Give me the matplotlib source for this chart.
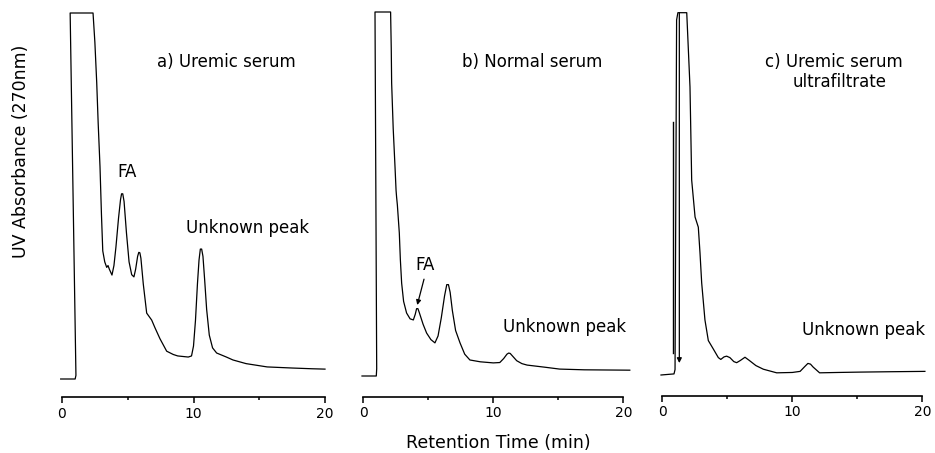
import matplotlib
matplotlib.use("Agg")
import matplotlib.pyplot as plt

plt.rcParams['font.family'] = ['DejaVu Sans']

# ---------------- data (retention time in min, UV absorbance in % of full scale) ----------------
a_time = [-0.1, 1.0, 1.06, 0.62, 2.36, 2.5, 2.64, 2.75, 2.89, 3.0, 3.1, 3.25, 3.4, 3.5, 3.6, 3.8,
          3.95, 4.1, 4.3, 4.45, 4.53, 4.62, 4.72, 4.9, 5.1, 5.3, 5.47, 5.6, 5.75, 5.84, 5.92, 6.0,
          6.18, 6.44, 6.82, 7.07, 7.45, 7.96, 8.46, 8.8, 9.6, 9.85, 10.0, 10.15, 10.3, 10.42,
          10.52, 10.62, 10.72, 10.85, 11.0, 11.2, 11.45, 11.76, 12.5, 13.0, 14.0, 15.6, 17.5,
          19.0, 20.0]
a_abs = [0, 0, 1, 100, 100, 92, 81, 70, 58, 45, 35, 32, 30.5, 31, 30, 28.4,
         31, 36, 44, 49, 50.6, 50.6, 48.5, 40, 32, 28.5, 27.9, 30, 33.5, 34.6, 34.5, 33,
         26, 18, 16.1, 14, 11, 7.6, 6.7, 6.3, 6.0, 6.3, 9, 16, 26, 32.5,
         35.5, 35.5, 33.5, 27, 19, 12, 8.5, 7.1, 6.0, 5.2, 4.2, 3.3, 3.0,
         2.8, 2.7]

b_time = [-0.1, 1.0, 1.03, 0.9, 2.1, 2.15, 2.18, 2.3, 2.44, 2.52, 2.56, 2.62, 2.77, 2.85, 2.95,
          3.1, 3.33, 3.6, 3.85, 4.0, 4.1, 4.2, 4.3, 4.6, 4.87, 5.2, 5.51, 5.75, 6.0, 6.25, 6.42,
          6.55, 6.68, 6.85, 7.1, 7.44, 7.8, 8.2, 9.0, 10.0, 10.5, 10.8, 11.05, 11.18, 11.3, 11.45,
          11.8, 12.2, 12.6, 14.0, 15.1, 17.0, 20.5]
b_abs = [0, 0, 2, 100, 100, 90, 80.5, 68, 57.4, 51, 49.2, 47, 39.3, 32, 25.5,
         20.5, 17.3, 15.7, 15.4, 17, 18.5, 18.5, 17.5, 14.2, 11.8, 10, 9.1, 11, 16, 22, 25.1,
         25.1, 23, 18, 12.5, 9.1, 6, 4.4, 3.9, 3.6, 3.7, 4.8, 6.0, 6.3, 6.2, 5.6,
         4.2, 3.4, 3.0, 2.4, 1.9, 1.7, 1.6]

c_time = [-0.1, 0.9, 0.98, 1.1, 1.2, 1.88, 2.13, 2.26, 2.52, 2.77, 2.9, 3.03, 3.28, 3.54, 3.92,
          4.31, 4.5, 4.75, 4.95, 5.2, 5.5, 5.72, 6.0, 6.36, 6.7, 7.2, 7.77, 8.8, 10.0, 10.6,
          10.95, 11.2, 11.4, 11.6, 12.1, 13.5, 15.2, 17.5, 20.2]
c_abs = [0, 0.3, 1.5, 98, 100, 100, 79.5, 53.8, 43.6, 40.8, 33.7, 25.4, 15.2, 9.5, 7.2,
         4.8, 4.3, 5.0, 5.2, 4.8, 3.7, 3.4, 4.0, 4.9, 4.0, 2.6, 1.6, 0.6, 0.7, 1.0,
         2.3, 3.2, 3.0, 2.2, 0.6, 0.7, 0.8, 0.9, 1.0]
# recorder pen marks in panel c
c_mark_time = [0.85, 0.85]
c_mark_abs = [69.9, 6.1]
c_arrow_time = 1.31
c_arrow_from, c_arrow_to = 100, 3.3

x_ticks = [0, 10, 20]
x_minor = [5, 15]

W, H = 935, 453
fig = plt.figure(figsize=(W / 100, H / 100), dpi=100)


def make_ax(zero_px, ppm, spine_px, base_px, top_px):
    ppu = (base_px - top_px) / 100.0
    left = zero_px - ppm
    width = 22 * ppm
    ybot = -(spine_px - base_px) / ppu
    ytop = 103
    top_ax = top_px - 3 * ppu
    ax = fig.add_axes([left / W, 1 - spine_px / H, width / W, (spine_px - top_ax) / H])
    ax.set_xlim(-1, 21)
    ax.set_ylim(ybot, ytop)
    for s in ['top', 'right', 'left']:
        ax.spines[s].set_visible(False)
    ax.spines['bottom'].set_bounds(0, 20)
    ax.spines['bottom'].set_linewidth(1.2)
    ax.set_yticks([])
    ax.set_xticks(x_ticks)
    ax.set_xticks(x_minor, minor=True)
    ax.set_xticklabels([str(v) for v in x_ticks])
    ax.tick_params(axis='x', which='major', length=4.5, width=1.1, direction='out',
                   labelsize=10, pad=2.5)
    ax.tick_params(axis='x', which='minor', length=2.5, width=1.1, direction='out')
    ax.patch.set_alpha(0)
    return ax


lw = 0.9
txt = dict(fontsize=12, ha='center', va='center', color='black')

ax_a = make_ax(62, 13.15, 397, 379, 13)
ax_a.plot(a_time, a_abs, color='black', lw=lw, clip_on=False)
ax_a.text(12.47, 86.6, 'a) Uremic serum', **txt)
ax_a.text(4.94, 56.6, 'FA', **txt)
ax_a.text(14.14, 41.3, 'Unknown peak', **txt)

ax_b = make_ax(363.3, 13.0, 396.5, 376, 12)
ax_b.plot(b_time, b_abs, color='black', lw=lw, clip_on=False)
ax_b.text(12.98, 86.3, 'b) Normal serum', **txt)
ax_b.text(4.75, 30.5, 'FA', **txt)
ax_b.annotate('', xy=(4.15, 19.5), xytext=(4.67, 26.6),
              arrowprops=dict(arrowstyle='-|>', color='black', lw=0.9,
                              mutation_scale=7, shrinkA=0, shrinkB=0))
ax_b.text(15.5, 13.5, 'Unknown peak', **txt)

ax_c = make_ax(662.3, 13.0, 395.5, 375, 12.7)
ax_c.plot(c_time, c_abs, color='black', lw=lw, clip_on=False)
ax_c.plot(c_mark_time, c_mark_abs, color='black', lw=1.0)
ax_c.annotate('', xy=(c_arrow_time, c_arrow_to), xytext=(c_arrow_time, c_arrow_from),
              arrowprops=dict(arrowstyle='-|>', color='black', lw=0.9,
                              mutation_scale=7, shrinkA=0, shrinkB=0))
ax_c.text(13.2, 86.4, 'c) Uremic serum', **txt)
ax_c.text(13.67, 80.9, 'ultrafiltrate', **txt)
ax_c.text(15.5, 12.4, 'Unknown peak', **txt)

fig.text(21 / W, 1 - 151.5 / H, 'UV Absorbance (270nm)', rotation=90, fontsize=12.5,
         ha='center', va='center')
fig.text(498 / W, 1 - 443 / H, 'Retention Time (min)', fontsize=12.5,
         ha='center', va='center')

fig.savefig('out.png', dpi=100)
